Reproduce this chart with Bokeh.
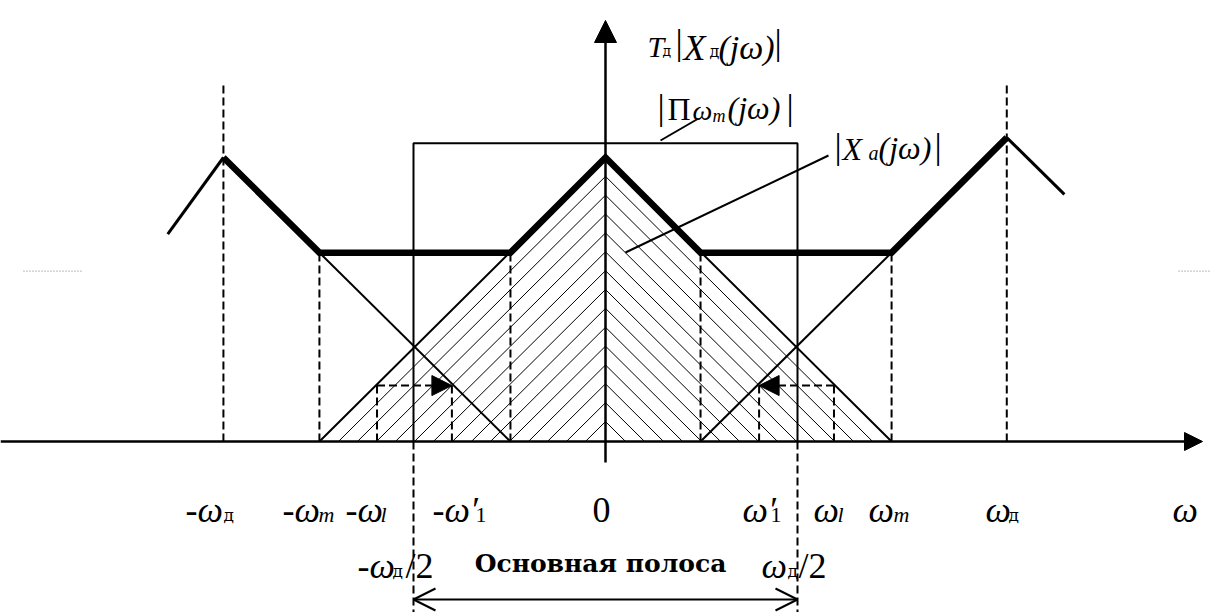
from bokeh.plotting import figure
from bokeh.models import Range1d, Arrow, NormalHead, OpenHead
from bokeh.embed import file_html
from bokeh.resources import INLINE
from bokeh.core.properties import value

# ---------------------------------------------------------------------------
# Spectrum data. Frequency in units of ωд/2, amplitude relative to |Xa(0)|.
# ---------------------------------------------------------------------------
w_half = 1.0            # ωд/2, edge of the baseband
w_m = 1.49              # ωm, upper frequency of the signal
w_l = 1.19              # ωl
w_1 = 0.80              # ω′1, alias of ωl
guide_level = 0.197     # |Xa| at ωl
pi_level = 1.05         # height of the ideal low-pass window |Πωm(jω)|
mark_top = 1.26         # top of the dashed ±ωд markers
stub_level = 0.60

# baseband spectrum |Xa(jω)|
xa_w = [-1.49, 0.0, 1.49]
xa_amp = [0.0, 1.0, 0.0]

# sampled spectrum T|Xд(jω)| (sum of overlapping images)
sum_w = [-1.99, -1.49, -0.495, 0.0, 0.495, 1.49, 2.09]
sum_amp = [1.0, 0.665, 0.665, 1.0, 0.665, 0.665, 1.07]

# outer slopes of the images centred at -ωд and +ωд
outer_left_w = [-2.28, -1.99]
outer_left_amp = [0.73, 1.0]
outer_right_w = [2.09, 2.39]
outer_right_amp = [1.07, 0.87]

# tails of the neighbouring images that fall inside the baseband
tail_left_w = [-1.49, -0.495]
tail_left_amp = [0.665, 0.0]
tail_right_w = [0.495, 1.49]
tail_right_amp = [0.0, 0.665]

w_d_marks = [-1.99, 2.09]                  # -ωд, ωд
overlap_marks = [-1.49, -0.495, 0.495, 1.49]
guide_marks = [-w_l, -w_1, w_1, w_l]

# tick labels: main part and subscript
tick_main = ["-ω", "-ω", "-ω", "-ω′", "0", "ω′", "ω", "ω", "ω", "ω"]
tick_sub = ["д", "m", "l", "1", "", "1", "l", "m", "д", ""]
band_label = "Основная полоса"

# ---------------------------------------------------------------------------
# Layout: screen pixel <-> data conversion
# ---------------------------------------------------------------------------
X0, SX = 605.0, 192.0
Y0, SY = 441.0, 284.0


def wx(px):
    return (px - X0) / SX


def ay(py):
    return (Y0 - py) / SY


FONT = value("Liberation Serif")
CYR_FONT = value("DejaVu Serif")
HATCH_STEP = 19 / SX    # horizontal spacing of the hatch lines

p = figure(width=1210, height=612,
           x_range=Range1d(wx(0), wx(1210)), y_range=Range1d(ay(612), ay(0)),
           output_backend="svg", toolbar_location=None,
           x_axis_location=None, y_axis_location=None,
           min_border=0, outline_line_color=None,
           background_fill_color="white", border_fill_color="white")
p.grid.visible = False

# hatching of the baseband triangle: strokes parallel to each slope,
# meeting in chevrons on the vertical axis
hx0, hy0, hx1, hy1 = [], [], [], []
k = 1
while k * HATCH_STEP < w_m:
    d = w_m - k * HATCH_STEP          # distance of the stroke foot from ω = 0
    h = d / w_m                       # height where it meets the axis
    for sgn in (-1, 1):
        hx0.append(sgn * d)
        hy0.append(0.0)
        hx1.append(0.0)
        hy1.append(h)
    k += 1
p.segment(x0=hx0, y0=hy0, x1=hx1, y1=hy1, line_color="black", line_width=1)

# ideal low-pass window
p.line([-w_half, -w_half, w_half, w_half], [0, pi_level, pi_level, 0],
       line_color="black", line_width=2)
# continuation of band edges below the axis
p.segment(x0=[-w_half, w_half], y0=[0, 0], x1=[-w_half, w_half], y1=[ay(612), ay(612)],
          line_color="black", line_width=2, line_dash="8 4")

# dashed markers
p.segment(x0=w_d_marks, y0=[0, 0], x1=w_d_marks, y1=[mark_top, mark_top],
          line_color="black", line_width=2, line_dash="8 4")
p.segment(x0=overlap_marks, y0=[0] * 4, x1=overlap_marks, y1=[sum_amp[1]] * 4,
          line_color="black", line_width=2, line_dash="8 4")
p.segment(x0=guide_marks, y0=[0] * 4, x1=guide_marks, y1=[guide_level] * 4,
          line_color="black", line_width=2, line_dash="8 4")

# baseband triangle and image tails
p.line(xa_w, xa_amp, line_color="black", line_width=2)
p.line(tail_left_w, tail_left_amp, line_color="black", line_width=2)
p.line(tail_right_w, tail_right_amp, line_color="black", line_width=2)

# outer slopes
p.line(outer_left_w, outer_left_amp, line_color="black", line_width=3)
p.line(outer_right_w, outer_right_amp, line_color="black", line_width=3)

# sampled spectrum outline
p.line(sum_w, sum_amp, line_color="black", line_width=6.5, line_join="miter")

# aliasing arrows ωl -> ω′1
for start, end in ((-w_l, -w_1), (w_l, w_1)):
    p.add_layout(Arrow(x_start=start, y_start=guide_level, x_end=end, y_end=guide_level,
                       line_color="black", line_width=2, line_dash="8 4",
                       end=NormalHead(size=20, fill_color="black", line_color="black")))

# axes
p.add_layout(Arrow(x_start=wx(0), y_start=0, x_end=wx(1202), y_end=0,
                   line_color="black", line_width=2.5,
                   end=NormalHead(size=18, fill_color="black", line_color="black")))
p.add_layout(Arrow(x_start=0, y_start=ay(462), x_end=0, y_end=ay(20),
                   line_color="black", line_width=2.5,
                   end=NormalHead(size=22, fill_color="black", line_color="black")))

# baseband span arrow
p.add_layout(Arrow(x_start=-w_half, y_start=ay(599), x_end=w_half, y_end=ay(599),
                   line_color="black", line_width=2,
                   start=OpenHead(size=22, line_color="black", line_width=2),
                   end=OpenHead(size=22, line_color="black", line_width=2)))

# leader lines
p.line([wx(660), wx(698)], [ay(140), ay(118)], line_color="black", line_width=2)
p.line([wx(625), wx(828)], [ay(252), ay(155)], line_color="black", line_width=2)

# faint stubs at the edges
p.line([wx(23), wx(82)], [stub_level, stub_level], line_color="#777777",
       line_width=1, line_dash="1 2")
p.line([wx(1178), wx(1210)], [stub_level, stub_level], line_color="#777777",
       line_width=1, line_dash="1 2")


def put(text, px, py, size, style="italic", align="left", font=FONT):
    p.text(x=[wx(px)], y=[ay(py)], text=[text], text_font=font,
           text_font_size=value(f"{size}px"), text_font_style=value(style),
           text_align=align, text_baseline="alphabetic", text_color="black")


def put_cyr(text, px, py, size, style="normal", align="left"):
    put(text, px, py, size, style, align, CYR_FONT)


# tick labels
main_x = [185, 282, 345, 432, 592, 742, 813, 868, 985, 1172]
sub_x = [223, 318, 380, 475, None, 770, 837, 893, 1008, None]
for m, s, mx, sx in zip(tick_main, tick_sub, main_x, sub_x):
    style = "normal" if m == "0" else "italic"
    put(m, mx, 509, 36, style)
    if s == "д":
        put_cyr(s, sx, 514, 17)
    elif s:
        put(s, sx, 514, 22, "italic" if s in ("m", "l") else "normal")

# band edge labels
put("-ω", 357, 565, 36)
put_cyr("д", 392, 570, 17)
put("/2", 405, 565, 36, "normal")
put("ω", 761, 565, 36)
put_cyr("д", 787, 570, 17)
put("/2", 798, 565, 36, "normal")
put_cyr(band_label, 600, 563, 25, "bold", "center")

# vertical axis label  T|Xд(jω)|
put("T", 647, 46, 30)
put_cyr("д", 662, 50, 14)
put("|", 675, 41, 36, "normal")
put("X", 683, 47, 36)
put_cyr("д", 709, 51, 16)
put("(jω)", 718, 47, 34)
put("|", 774, 41, 36, "normal")

# |Πωm(jω)|
put("|", 657, 106, 36, "normal")
put("Π", 667, 108, 32, "normal")
put("ω", 692, 110, 28)
put("m", 712, 115, 18)
put("(jω)", 727, 107, 32)
put("|", 786, 106, 36, "normal")

# |Xa(jω)|
put("|", 834, 145, 36, "normal")
put("X", 842, 148, 32)
put("a", 868, 152, 20)
put("(jω)", 878, 147, 32)
put("|", 934, 145, 36, "normal")

open("out.html", "w").write(file_html(p, INLINE))
